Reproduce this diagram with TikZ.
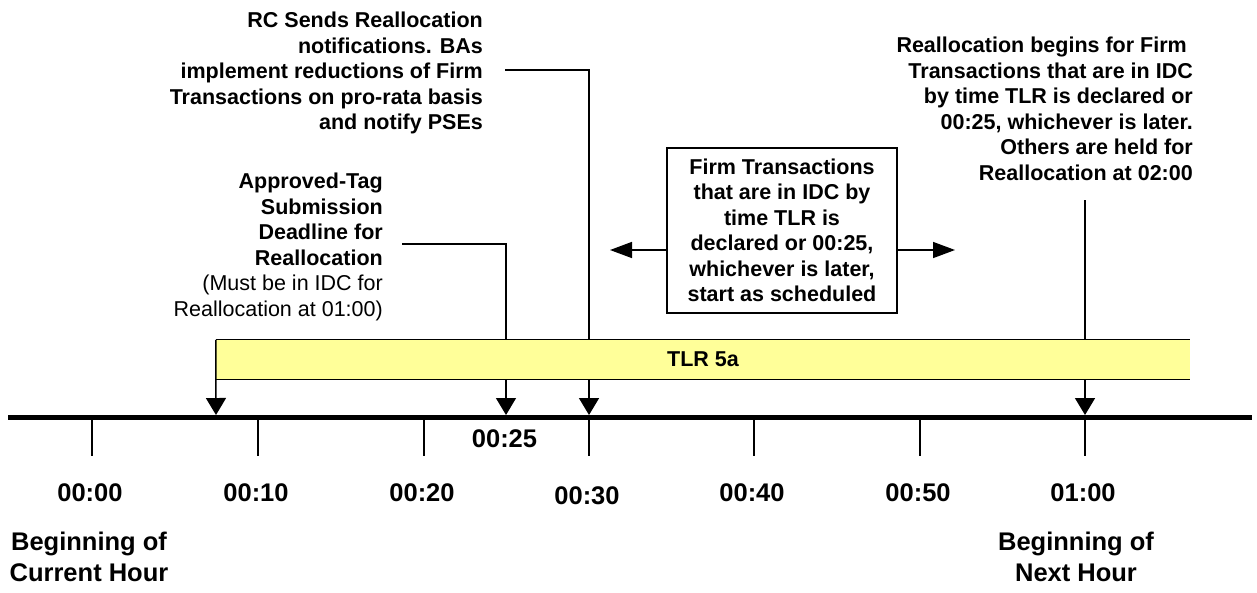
\documentclass[tikz,border=0pt]{standalone}
\usepackage{fontspec}
\setmainfont{Liberation Sans}
\usetikzlibrary{arrows.meta}
\definecolor{tlryellow}{RGB}{255, 255, 153}
\newcommand{\blocktext}{\fontsize{21.5pt}{25.5pt}\selectfont\bfseries}
\newcommand{\timetext}{\fontsize{25.5pt}{31pt}\selectfont\bfseries}
\tikzstyle{pointer} = [line width=1.5pt,-{Triangle[length=17pt,width=20pt]}]
\tikzstyle{sidepointer} = [line width=1.5pt,-{Triangle[length=22pt,width=16pt]}]
\tikzstyle{connector} = [line width=1.5pt]
\tikzstyle{rightblock} = [anchor=north east, inner sep=0pt, align=right, font=\blocktext]
\tikzstyle{timelabel} = [inner sep=0pt, font=\timetext]

\begin{document}
\begin{tikzpicture}[x=1pt,y=-1pt]
        \useasboundingbox (0,0) rectangle (1257,592);

        % Axis and ticks
        \coordinate (axl) at (8,417);
        \coordinate (axr) at (1252,417);
        \draw [line width=5pt] (axl) -- (axr);
        \foreach \x in {92,258,424,589,754,920,1085}
            \draw [line width=1.5pt] (\x,417) -- (\x,456);

        % Points on the axis
        \coordinate (k7) at (216,415);
        \coordinate (k25) at (506,415);
        \coordinate (k30) at (589,415);
        \coordinate (k60) at (1085,415);

        % Time labels
        \foreach \x/\t in {92/00:00, 258/00:10, 424/00:20, 754/00:40, 920/00:50, 1085/01:00}
            \node (lab\x) at (\x-2,493) [timelabel] {\t};
        \node (lab30) at (587,496) [timelabel] {00:30};
        \node (lab25) at (504.5,439) [timelabel] {00:25};

        % Hour labels
        \node (curhour) at (89,532) [anchor=north, inner sep=0pt, align=center, font=\timetext] {Beginning of\\Current Hour};
        \node (nexthour) at (1076,532) [anchor=north, inner sep=0pt, align=center, font=\timetext] {Beginning of\\Next Hour};

        % Event texts
        \node (rc) at (483,12) [rightblock] {RC Sends Reallocation\\notifications. BAs\\implement reductions of Firm\hspace*{10pt}\\Transactions on pro-rata basis\hspace*{10pt}\\and notify PSEs};
        \node (approved) at (383,173) [rightblock] {Approved-Tag\\Submission\\Deadline for\\Reallocation\\\mdseries (Must be in IDC for\hspace*{3pt}\\\mdseries Reallocation at 01:00)};
        \node (realloc) at (1193,37) [rightblock] {Reallocation begins for Firm\hspace*{6pt}\\Transactions that are in IDC\hspace*{6pt}\\by time TLR is declared or\hspace*{6pt}\\00:25, whichever is later.\hspace*{2pt}\\Others are held for\\Reallocation at 02:00};

        % Connectors down to the axis
        \coordinate (tagend) at (402,244);
        \coordinate (rcend) at (505,70);
        \coordinate (reallocend) at (1085,200);
        \draw [pointer] (tagend) -| (k25);
        \draw [pointer] (rcend) -| (k30);
        \draw [pointer] (reallocend) -- (k60);

        % TLR bar
        \node (tlr) at (703,359.5) [minimum width=974pt, minimum height=39pt, inner sep=0pt, fill=tlryellow, font=\blocktext] {TLR 5a};
        \draw [line width=1.2pt] (tlr.north west) -- (tlr.north east);
        \draw [line width=1.2pt] (tlr.south west) -- (tlr.south east);
        \draw [pointer] (tlr.north west) -- (k7);

        % Box with side arrows
        \node (note) at (782,230.5) [draw=black, line width=2pt, minimum width=230pt, minimum height=165pt, inner sep=0pt, align=center, font=\blocktext] {Firm Transactions\\that are in IDC by\\time TLR is\\declared or 00:25,\\whichever is later,\\start as scheduled};
        \coordinate (lefttip) at (610,250);
        \coordinate (righttip) at (955,250);
        \draw [sidepointer] (note.west |- lefttip) -- (lefttip);
        \draw [sidepointer] (note.east |- righttip) -- (righttip);
    \end{tikzpicture}
\end{document}
